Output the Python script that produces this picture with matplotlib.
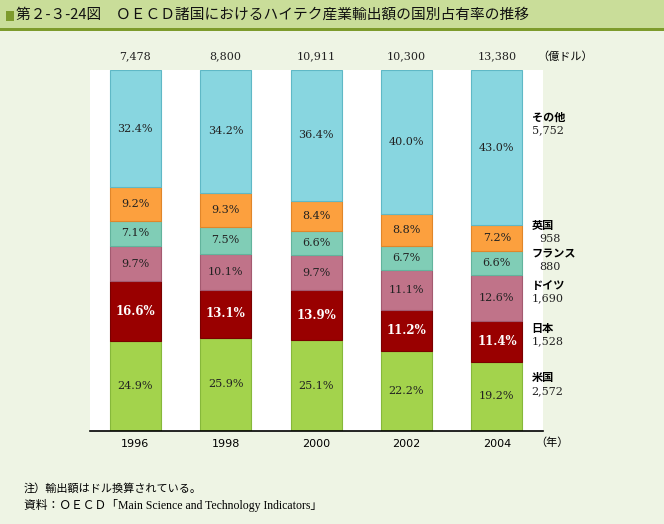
import matplotlib.pyplot as plt
import matplotlib.patches as mpatches

plt.rcParams['font.family'] = ['Noto Sans CJK JP', 'DejaVu Sans']

years = ['1996', '1998', '2000', '2002', '2004']
totals = ['7,478', '8,800', '10,911', '10,300', '13,380']

us = [24.9, 25.9, 25.1, 22.2, 19.2]
japan = [16.6, 13.1, 13.9, 11.2, 11.4]
germany = [9.7, 10.1, 9.7, 11.1, 12.6]
france = [7.1, 7.5, 6.6, 6.7, 6.6]
uk = [9.2, 9.3, 8.4, 8.8, 7.2]
other = [32.4, 34.2, 36.4, 40.0, 43.0]

names = ['米国', '日本', 'ドイツ', 'フランス', '英国', 'その他']
amounts_2004 = ['2,572', '1,528', '1,690', '880', '958', '5,752']

series = [us, japan, germany, france, uk, other]
colors = ['#A3D34C', '#990000', '#C07389', '#80CDB6', '#FCA03E', '#88D6E0']
edges = ['#86B83A', '#7A0000', '#A35A70', '#62B39C', '#E0862A', '#5FB8C6']

bg = '#EEF4E4'
fig = plt.figure(figsize=(6.64, 5.24), dpi=100, facecolor=bg)

# title band
fig.patches.append(mpatches.Rectangle((0, 1 - 28 / 524), 1, 28 / 524, transform=fig.transFigure,
                                      facecolor='#C9DD99', edgecolor='none'))
fig.patches.append(mpatches.Rectangle((0, 1 - 31 / 524), 1, 3 / 524, transform=fig.transFigure,
                                      facecolor='#7D9B2C', edgecolor='none'))
fig.patches.append(mpatches.Rectangle((6 / 664, 1 - 21 / 524), 8 / 664, 10 / 524, transform=fig.transFigure,
                                      facecolor='#7D9B2C', edgecolor='none'))
fig.text(16 / 664, 1 - 15 / 524, '第２-３-24図　ＯＥＣＤ諸国におけるハイテク産業輸出額の国別占有率の推移',
         fontsize=10.6, va='center', ha='left', color='#111111')

ax = fig.add_axes([90 / 664, (524 - 431) / 524, (543 - 90) / 664, (431 - 70) / 524])
ax.set_facecolor('white')

x = list(range(len(years)))
bottom = [0.0] * len(years)
for i, vals in enumerate(series):
    ax.bar(x, vals, width=0.565, bottom=bottom, color=colors[i], edgecolor=edges[i], linewidth=0.8)
    for j, v in enumerate(vals):
        yc = bottom[j] + v / 2
        if i == 1:
            ax.text(j, yc, f'{v:.1f}%', ha='center', va='center', fontsize=8.5,
                    family='DejaVu Serif', color='white', fontweight='bold')
        else:
            ax.text(j, yc, f'{v:.1f}%', ha='center', va='center', fontsize=8,
                    family='DejaVu Serif', color='#222222')
    bottom = [b + v for b, v in zip(bottom, vals)]

ax.set_xlim(-0.5, 4.51)
ax.set_ylim(0, 100)
for s in ['top', 'left', 'right']:
    ax.spines[s].set_visible(False)
ax.spines['bottom'].set_linewidth(1.2)
ax.set_yticks([])
ax.set_xticks(x)
ax.set_xticklabels(years, fontsize=8, family='DejaVu Sans')
ax.tick_params(axis='x', length=0, pad=6)

for j, t in enumerate(totals):
    ax.text(j, 103.7, t, ha='center', va='center', fontsize=8, family='DejaVu Serif',
            color='#222222', clip_on=False)
ax.text(4.45, 103.7, '（億ドル）', ha='left', va='center', fontsize=8, clip_on=False)
ax.text(4.43, -3.3, '（年）', ha='left', va='center', fontsize=8, clip_on=False)

# right-side labels for 2004
name_y = [14.7, 28.5, 40.4, 49.0, 56.8, 87.0]
indent = [0, 0, 0, 0.08, 0.08, 0]
for k in range(len(names)):
    ax.text(4.385, name_y[k], names[k], ha='left', va='center', fontsize=8,
            fontweight='bold', clip_on=False)
    ax.text(4.385 + indent[k], name_y[k] - 3.6, amounts_2004[k], ha='left', va='center',
            fontsize=8, family='DejaVu Serif', color='#222222', clip_on=False)

note_font = ['Liberation Serif', 'Noto Sans CJK JP']
fig.text(24 / 664, 1 - 488 / 524, '注）輸出額はドル換算されている。', fontsize=8, va='center',
         family=note_font)
fig.text(24 / 664, 1 - 505 / 524, '資料：ＯＥＣＤ「Main Science and Technology Indicators」', fontsize=8.5,
         va='center', family=note_font)

fig.savefig('out.png', dpi=100, facecolor=bg)
